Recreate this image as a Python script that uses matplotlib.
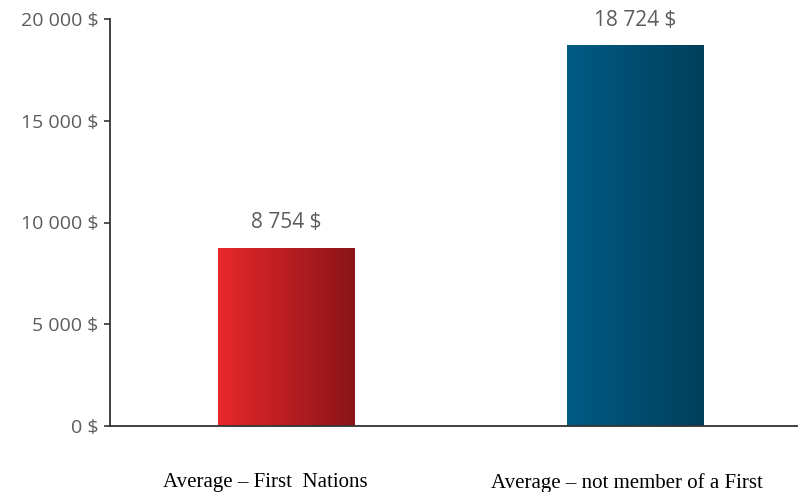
import matplotlib
matplotlib.use("Agg")
import matplotlib.pyplot as plt
import matplotlib.transforms as mtransforms
import numpy as np
from matplotlib.colors import LinearSegmentedColormap
from matplotlib.ticker import FuncFormatter, MultipleLocator

# ---- data ----
categories = ["Average – First  Nations", "Average – not member of a First"]
values = [8754, 18724]
value_labels = ["8 754 $", "18 724 $"]
gradients = [("#E8282A", "#8A1419"), ("#005B84", "#003F5C")]

TEXT_GRAY = "#5c5c5c"
AXIS_COLOR = "#333333"


def money(v, _pos=None):
    return f"{int(v):,}".replace(",", " ") + " $"


fig = plt.figure(figsize=(7.98, 4.92), dpi=100)
ax = fig.add_axes([110 / 798, 66 / 492, 688 / 798, 407 / 492])

x = np.arange(len(categories))
bars = ax.bar(x, values, width=0.3926, color="none", zorder=2)

# horizontal gradient inside each bar
for bar, (c0, c1) in zip(bars, gradients):
    cmap = LinearSegmentedColormap.from_list("g", [c0, c1])
    grad = np.linspace(0, 1, 256).reshape(1, -1)
    bx, by = bar.get_x(), bar.get_y()
    bw, bh = bar.get_width(), bar.get_height()
    im = ax.imshow(grad, cmap=cmap, aspect="auto",
                   extent=(bx, bx + bw, by, by + bh), zorder=2)
    im.set_clip_path(bar)

for xi, v, lab in zip(x, values, value_labels):
    ax.annotate(lab, xy=(xi, v), xytext=(0, 14), textcoords="offset points",
                ha="center", va="baseline", fontsize=15, color=TEXT_GRAY,
                family="Open Sans")

ax.set_xlim(-0.506, 1.466)
ax.set_ylim(0, 20000)
ax.yaxis.set_major_locator(MultipleLocator(5000))
ax.yaxis.set_major_formatter(FuncFormatter(money))

ax.set_xticks(x)
ax.set_xticklabels(categories, family="Liberation Serif", fontsize=15,
                   color="black")
ax.tick_params(axis="x", length=0, pad=34)
# category labels sit a little left of the bar centres in the original
for lbl, dx in zip(ax.get_xticklabels(), [-21, -8]):
    lbl.set_transform(lbl.get_transform() +
                      mtransforms.ScaledTranslation(dx / 100, 0, fig.dpi_scale_trans))
ax.tick_params(axis="y", length=4.5, width=1.2, color=AXIS_COLOR,
               labelsize=14, labelcolor=TEXT_GRAY, pad=4)
for t in ax.get_yticklabels():
    t.set_family("Open Sans")

for s in ["top", "right"]:
    ax.spines[s].set_visible(False)
for s in ["left", "bottom"]:
    ax.spines[s].set_color(AXIS_COLOR)
    ax.spines[s].set_linewidth(1.3)

fig.savefig("out.png", dpi=100)
